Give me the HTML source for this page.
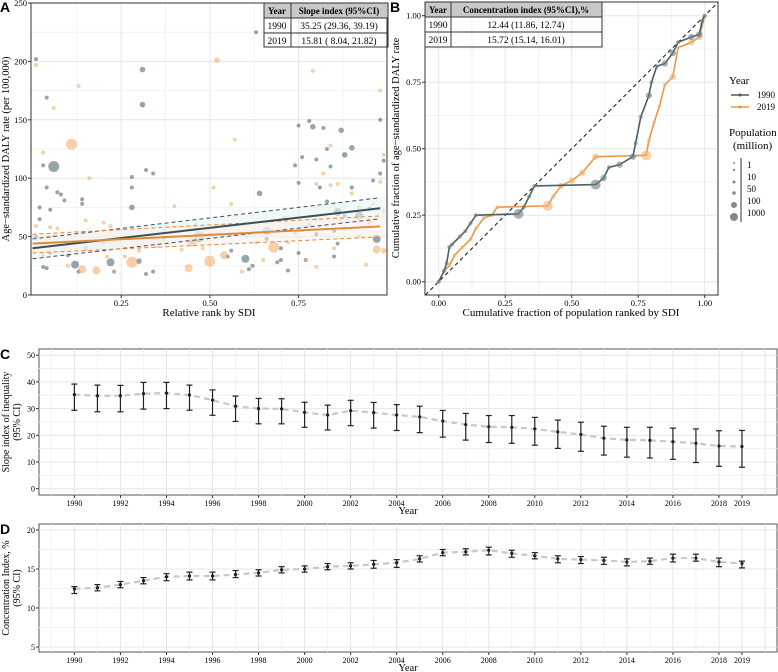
<!DOCTYPE html>
<html><head><meta charset="utf-8">
<style>
body{margin:0;background:#fff;}
svg{display:block;font-family:"Liberation Serif",serif;}
.pl{font-family:"Liberation Sans",sans-serif;font-weight:bold;font-size:14px;}
</style></head>
<body>
<svg id="c" width="778" height="672" viewBox="0 0 778 672"></svg>
<script>
// ---------- Panel A data ----------
const a90x=[0.01,0.02,0.02,0.03,0.04,0.04,0.05,0.06,0.07,0.08,0.09,0.1,0.12,0.13,0.14,0.14,0.03,0.04,0.28,0.28,0.28,0.31,0.31,0.32,0.34,0.3,0.32,0.34,0.22,0.47,0.6,0.62,0.61,0.64,0.63,0.66,0.69,0.7,0.72,0.75,0.74,0.76,0.75,0.78,0.79,0.82,0.83,0.87,0.88,0.9,0.8,0.84,0.86,0.92,0.97,0.98,0.99,0.98,0.96,0.75,0.77,0.85,0.85,0.9,0.81,0.8,0.86,0.23,0.01,0.05,0.1,0.37,0.45,0.55,0.56,0.5,0.66,0.7,0.78,0.83,0.88,0.95,0.15,0.2];
const a90y=[202,75,65,111,169,92,73,110,88,86,81,44,26,20,82,78,24,23,75,101,92,193,163,107,104,29,18,20,28,50,31,25,22,87,225,55,28,30,21,145,111,118,96,149,144,143,125,141,120,126,116,110,71,68,48,150,115,104,98,36,30,33,55,92,92,52,44,20,50,36,34,48,45,33,38,52,48,40,60,80,68,74,40,45];
const a90s=[1,1,1,1,1,1,1,4,1,1,1,1,3,1,1,1,1,1,2,1,1,2,2,1,1,2,1,1,3,4,3,1,1,2,1,3,1,1,1,1,1,1,1,1,2,1,1,2,2,2,1,1,3,3,3,1,1,1,1,1,1,1,1,1,1,1,1,1,1,1,1,1,1,1,1,1,1,1,1,1,1,1,1,1];
const a19x=[0.01,0.03,0.06,0.13,0.11,0.16,0.01,0.05,0.07,0.15,0.2,0.22,0.1,0.14,0.18,0.21,0.23,0.28,0.45,0.44,0.5,0.54,0.52,0.57,0.51,0.4,0.42,0.48,0.35,0.56,0.59,0.68,0.66,0.71,0.79,0.84,0.8,0.82,0.84,0.86,0.9,0.92,0.95,0.97,0.99,0.94,0.98,0.99,0.98,0.77,0.8,0.85,0.88,0.74,0.6,0.63,0.3,0.26,0.06,0.03,0.09,0.37,0.46,0.65,0.72,0.8,0.87,0.92,0.96,0.99];
const a19y=[197,122,160,179,129,100,59,58,57,64,62,59,25,22,21,33,20,28,46,23,29,34,201,133,92,76,39,40,42,78,20,41,62,66,192,128,95,104,94,95,87,75,62,39,38,26,175,120,97,30,24,40,57,53,52,45,38,33,50,34,40,55,60,30,45,65,65,50,78,72];
const a19s=[1,1,1,1,4,1,1,1,1,1,1,1,1,3,3,1,1,4,4,3,4,3,2,1,1,1,1,1,1,1,1,4,1,1,1,1,1,1,1,1,1,1,1,3,2,1,1,1,1,1,1,1,1,1,1,1,1,1,1,1,1,1,1,1,1,1,1,1,1,1];
const fit90=[40,75], fit90lo=[31,66], fit90hi=[48,84];
const fit19=[44,59], fit19lo=[36,50], fit19hi=[52,68];
// ---------- Panel B data ----------
const b90x=[0,0.02,0.03,0.04,0.05,0.08,0.1,0.12,0.14,0.3,0.32,0.34,0.36,0.59,0.62,0.64,0.68,0.73,0.74,0.76,0.79,0.8,0.82,0.85,0.88,0.9,0.95,0.98,0.99,1];
const b90y=[0,0.04,0.07,0.13,0.14,0.17,0.19,0.22,0.25,0.255,0.28,0.32,0.36,0.365,0.39,0.43,0.44,0.47,0.52,0.62,0.70,0.75,0.81,0.82,0.86,0.9,0.92,0.93,0.98,1];
const b19x=[0,0.02,0.04,0.06,0.09,0.12,0.14,0.17,0.2,0.22,0.41,0.43,0.46,0.5,0.54,0.59,0.78,0.79,0.81,0.83,0.85,0.88,0.9,0.95,0.98,1];
const b19y=[0,0.04,0.06,0.1,0.13,0.16,0.2,0.24,0.25,0.28,0.285,0.32,0.36,0.38,0.41,0.47,0.475,0.53,0.6,0.66,0.74,0.77,0.88,0.9,0.92,1];
// ---------- Panel C/D data ----------
const years=[1990,1991,1992,1993,1994,1995,1996,1997,1998,1999,2000,2001,2002,2003,2004,2005,2006,2007,2008,2009,2010,2011,2012,2013,2014,2015,2016,2017,2018,2019];
const siiVal=[35.25,34.8,34.8,35.6,35.8,35.1,33.2,30.9,30.0,29.9,28.6,27.6,29.2,28.5,27.6,26.9,25.3,24.0,23.2,23.0,22.4,21.3,20.3,18.9,18.3,18.1,17.6,17.0,16.0,15.81];
const siiLo=[29.36,28.8,28.8,29.8,30.0,29.4,27.5,25.2,24.3,24.3,23.0,22.0,23.6,22.7,21.8,21.0,19.3,18.2,17.3,17.0,16.3,15.1,14.0,12.6,11.8,11.5,11.0,9.8,8.4,8.04];
const siiHi=[39.19,38.8,38.7,39.8,39.8,38.8,37.0,34.7,33.8,33.7,32.4,31.3,33.1,32.3,31.5,30.9,29.3,28.2,27.4,27.4,26.7,25.7,24.9,23.4,23.0,23.0,22.7,22.4,21.7,21.82];
const ciVal=[12.44,12.6,13.0,13.5,14.0,14.1,14.1,14.3,14.5,14.9,15.0,15.3,15.4,15.6,15.8,16.3,17.1,17.2,17.4,17.0,16.7,16.3,16.2,16.1,15.9,16.0,16.4,16.4,15.9,15.72];
const ciLo=[11.86,12.2,12.6,13.1,13.5,13.6,13.6,13.9,14.1,14.5,14.6,14.9,15.0,15.1,15.2,15.9,16.7,16.8,16.8,16.5,16.3,15.8,15.7,15.6,15.4,15.6,15.9,16.0,15.3,15.14];
const ciHi=[12.74,13.0,13.4,13.9,14.4,14.6,14.6,14.8,14.9,15.3,15.4,15.7,15.8,16.1,16.2,16.7,17.5,17.6,17.8,17.4,17.1,16.7,16.6,16.5,16.3,16.4,16.9,16.9,16.4,16.01];

const NS="http://www.w3.org/2000/svg";
const svg=document.getElementById('c');
function el(tag,attrs,parent,text){const e=document.createElementNS(NS,tag);for(const k in attrs)e.setAttribute(k,attrs[k]);if(text!==undefined)e.textContent=text;(parent||svg).appendChild(e);return e;}
function grp(name){const g=el('g',{});return g;}

// ===== Panel A =====
const ax=v=>32.5+v*354.8, ay=v=>295-v*1.168;
const gA=grp('panel-a');
el('rect',{x:31,y:3,width:356,height:292,fill:'#fff',stroke:'#333','stroke-width':1},gA);
for(const t of [0.125,0.375,0.625,0.875]) el('line',{x1:ax(t),x2:ax(t),y1:3,y2:295,stroke:'#f3f3f3'},gA);
for(const t of [25,75,125,175,225]) el('line',{x1:31,x2:387,y1:ay(t),y2:ay(t),stroke:'#f3f3f3'},gA);
for(const t of [0.25,0.5,0.75]) el('line',{x1:ax(t),x2:ax(t),y1:3,y2:295,stroke:'#e6e6e6'},gA);
for(const t of [50,100,150,200]) el('line',{x1:31,x2:387,y1:ay(t),y2:ay(t),stroke:'#e6e6e6'},gA);
const rs=[0,2,2.8,4,5.5];
a90x.forEach((x,i)=>{const c=el('circle',{cx:ax(x),cy:ay(a90y[i]),r:rs[a90s[i]],fill:'#6b7f86','fill-opacity':0.7},gA);});
a19x.forEach((x,i)=>{const c=el('circle',{cx:ax(x),cy:ay(a19y[i]),r:rs[a19s[i]],fill:'#f0a865','fill-opacity':0.55},gA);});
el('polygon',{points:`${ax(0)},${ay(fit90lo[0])} ${ax(1)},${ay(fit90lo[1])} ${ax(1)},${ay(fit90hi[1])} ${ax(0)},${ay(fit90hi[0])}`,fill:'#e6f3f5','fill-opacity':0.6},gA);
el('polygon',{points:`${ax(0)},${ay(fit19lo[0])} ${ax(1)},${ay(fit19lo[1])} ${ax(1)},${ay(fit19hi[1])} ${ax(0)},${ay(fit19hi[0])}`,fill:'#fbeee9','fill-opacity':0.5},gA);
function ln(arr,col,w,dash,name){const l=el('line',{x1:ax(0),y1:ay(arr[0]),x2:ax(0.98),y2:ay(arr[0]+(arr[1]-arr[0])*0.98),stroke:col,'stroke-width':w,'stroke-dasharray':dash||'none'},gA);}
ln(fit90lo,'#3d4f57',1,'4,3','ci-1990-lower');ln(fit90hi,'#3d4f57',1,'4,3','ci-1990-upper');
ln(fit19lo,'#e08a35',1,'4,3','ci-2019-lower');ln(fit19hi,'#e08a35',1,'4,3','ci-2019-upper');
ln(fit90,'#3d4f57',2,null,'fit-1990');ln(fit19,'#e08a35',2,null,'fit-2019');
el('rect',{x:31,y:3,width:356,height:292,fill:'none',stroke:'#333','stroke-width':1},gA);
for(const t of [0,50,100,150,200,250]){el('line',{x1:28,x2:31,y1:ay(t),y2:ay(t),stroke:'#333'},gA);el('text',{x:27,y:ay(t)+3,'font-size':8.5,'text-anchor':'end'},gA,t);}
for(const t of [0.25,0.5,0.75]){el('line',{x1:ax(t),x2:ax(t),y1:295,y2:298,stroke:'#333'},gA);el('text',{x:ax(t),y:306,'font-size':8.5,'text-anchor':'middle'},gA,t.toFixed(2));}
el('text',{x:209,y:316,'font-size':11,'text-anchor':'middle'},gA,'Relative rank by SDI');
el('text',{x:9,y:149,'font-size':10.5,'text-anchor':'middle',transform:'rotate(-90 9 149)'},gA,'Age−standardized DALY rate (per 100,000)');
el('text',{x:0,y:12,class:'pl'},gA,'A');
const tA=grp('slope-index-table');
el('rect',{x:264,y:3,width:124,height:15,fill:'#c8c8c8'},tA);
el('rect',{x:264,y:3,width:124,height:44,fill:'none',stroke:'#333'},tA);
el('line',{x1:264,x2:388,y1:18,y2:18,stroke:'#333'},tA);el('line',{x1:264,x2:388,y1:33,y2:33,stroke:'#333'},tA);
el('line',{x1:291,x2:291,y1:3,y2:47,stroke:'#333'},tA);
el('text',{x:277,y:14,'font-size':9,'font-weight':'bold','text-anchor':'middle'},tA,'Year');
el('text',{x:339,y:14,'font-size':9,'font-weight':'bold','text-anchor':'middle'},tA,'Slope index (95%CI)');
el('text',{x:277,y:29,'font-size':9.5,'text-anchor':'middle'},tA,'1990');
el('text',{x:339,y:29,'font-size':9.5,'text-anchor':'middle'},tA,'35.25 (29.36, 39.19)');
el('text',{x:277,y:44,'font-size':9.5,'text-anchor':'middle'},tA,'2019');
el('text',{x:339,y:44,'font-size':9.5,'text-anchor':'middle'},tA,'15.81 ( 8.04, 21.82)');

// ===== Panel B =====
const bx=v=>438.7+v*266, by=v=>281.7-v*266;
const gB=grp('panel-b');
el('rect',{x:425,y:2,width:293,height:293,fill:'#fff'},gB);
for(const t of [0.125,0.375,0.625,0.875]){el('line',{x1:bx(t),x2:bx(t),y1:2,y2:295,stroke:'#f3f3f3'},gB);el('line',{x1:425,x2:718,y1:by(t),y2:by(t),stroke:'#f3f3f3'},gB);}
for(const t of [0,0.25,0.5,0.75,1]){el('line',{x1:bx(t),x2:bx(t),y1:2,y2:295,stroke:'#e6e6e6'},gB);el('line',{x1:425,x2:718,y1:by(t),y2:by(t),stroke:'#e6e6e6'},gB);}
el('line',{x1:bx(-0.05),y1:by(-0.05),x2:bx(1.05),y2:by(1.05),stroke:'#111','stroke-dasharray':'4,3'},gB);
function curve(xs,ys,col,name,pc){
  let d='';xs.forEach((x,i)=>{d+=(i?'L':'M')+bx(x)+','+by(ys[i]);});
  const p=el('path',{d,fill:'none',stroke:col,'stroke-width':1.6},gB);
  xs.forEach((x,i)=>{const dx=i?x-xs[i-1]:0;const r=dx>0.1?5:(dx>0.03?3.2:2);const c=el('circle',{cx:bx(x),cy:by(ys[i]),r,fill:pc,'fill-opacity':0.6},gB);});
}
curve(b19x,b19y,'#e89848','curve-2019','#f0b070');
curve(b90x,b90y,'#4a5f68','curve-1990','#6b7f86');
el('rect',{x:425,y:2,width:293,height:293,fill:'none',stroke:'#333'},gB);
for(const t of [0,0.25,0.5,0.75,1]){const s=t.toFixed(2);el('line',{x1:bx(t),x2:bx(t),y1:295,y2:298,stroke:'#333'},gB);el('text',{x:bx(t),y:306,'font-size':8.5,'text-anchor':'middle'},gB,s);el('line',{x1:422,x2:425,y1:by(t),y2:by(t),stroke:'#333'},gB);el('text',{x:421,y:by(t)+3,'font-size':8.5,'text-anchor':'end'},gB,s);}
el('text',{x:571,y:316,'font-size':11,'text-anchor':'middle'},gB,'Cumulative fraction of population ranked by SDI');
el('text',{x:399,y:148,'font-size':10.5,'text-anchor':'middle',transform:'rotate(-90 399 148)'},gB,'Cumulative fraction of age−standardized DALY rate');
el('text',{x:390,y:12,class:'pl'},gB,'B');
const tB=grp('concentration-index-table');
el('rect',{x:425,y:2,width:177,height:15,fill:'#c8c8c8'},tB);
el('rect',{x:425,y:2,width:177,height:45,fill:'none',stroke:'#333'},tB);
el('line',{x1:425,x2:602,y1:17,y2:17,stroke:'#333'},tB);el('line',{x1:425,x2:602,y1:32,y2:32,stroke:'#333'},tB);
el('line',{x1:451,x2:451,y1:2,y2:47,stroke:'#333'},tB);
el('text',{x:438,y:13,'font-size':9,'font-weight':'bold','text-anchor':'middle'},tB,'Year');
el('text',{x:526,y:13,'font-size':9,'font-weight':'bold','text-anchor':'middle'},tB,'Concentration index (95%CI),%');
el('text',{x:438,y:28,'font-size':9.5,'text-anchor':'middle'},tB,'1990');
el('text',{x:526,y:28,'font-size':9.5,'text-anchor':'middle'},tB,'12.44 (11.86, 12.74)');
el('text',{x:438,y:43,'font-size':9.5,'text-anchor':'middle'},tB,'2019');
el('text',{x:526,y:43,'font-size':9.5,'text-anchor':'middle'},tB,'15.72 (15.14, 16.01)');
const lg=grp('legend');
el('text',{x:729,y:84,'font-size':11},lg,'Year');
el('line',{x1:731,x2:749,y1:95,y2:95,stroke:'#4a5f68','stroke-width':1.5},lg);el('circle',{cx:740,cy:95,r:1.5,fill:'#4a5f68'},lg);
el('text',{x:757,y:98,'font-size':9},lg,'1990');
el('line',{x1:731,x2:749,y1:107,y2:107,stroke:'#e89848','stroke-width':1.5},lg);el('circle',{cx:740,cy:107,r:1.5,fill:'#e89848'},lg);
el('text',{x:757,y:110,'font-size':9},lg,'2019');
el('text',{x:729,y:136,'font-size':11},lg,'Population');
el('text',{x:733,y:149,'font-size':11},lg,'(million)');
el('line',{x1:741,x2:741,y1:158,y2:222,stroke:'#333'},lg);
[[163,1],[170,1.2],[182,1.5],[193,1.8],[205,3],[217,4]].forEach(r=>{el('circle',{cx:734,cy:r[0],r:r[1],fill:'#888'},lg);});
[[165,'1'],[177,'10'],[189,'50'],[201,'100'],[213,'1000']].forEach(r=>el('text',{x:747,y:r[0]+3,'font-size':9},lg,r[1]));

// ===== Panel C & D =====
const yx=y=>74.4+(y-1990)*23.02;
function panel(name,top,bot,y0px,ypx,y0,ticks,minor,vals,lo,hi,lab1,lab2,letter){
  const g=grp(name);
  const yy=v=>y0px-(v-y0)*ypx;
  el('rect',{x:39,y:top,width:738,height:bot-top,fill:'#fff',stroke:'#555'},g);
  for(let y=1989;y<=2020;y++) el('line',{x1:yx(y),x2:yx(y),y1:top,y2:bot,stroke:y%2==0||y==2019?'#e6e6e6':'#f3f3f3'},g);
  minor.forEach(t=>el('line',{x1:39,x2:777,y1:yy(t),y2:yy(t),stroke:'#f0f0f0'},g));
  ticks.forEach(t=>{el('line',{x1:39,x2:777,y1:yy(t),y2:yy(t),stroke:'#e6e6e6'},g);el('line',{x1:36,x2:39,y1:yy(t),y2:yy(t),stroke:'#333'},g);el('text',{x:35,y:yy(t)+3,'font-size':8,'text-anchor':'end'},g,t);});
  let d='';years.forEach((y,i)=>{d+=(i?'L':'M')+yx(y)+','+yy(vals[i]);});
  el('path',{d,fill:'none',stroke:'#c8c8c8','stroke-width':2.2,'stroke-dasharray':'6,4'},g);
  years.forEach((y,i)=>{
    const e=el('g',{},g);
    const x=yx(y);
    el('line',{x1:x,x2:x,y1:yy(lo[i]),y2:yy(hi[i]),stroke:'#222','stroke-width':1.2},e);
    el('line',{x1:x-3,x2:x+3,y1:yy(lo[i]),y2:yy(lo[i]),stroke:'#222','stroke-width':1.2},e);
    el('line',{x1:x-3,x2:x+3,y1:yy(hi[i]),y2:yy(hi[i]),stroke:'#222','stroke-width':1.2},e);
    el('circle',{cx:x,cy:yy(vals[i]),r:1.6,fill:'#222'},e);
  });
  years.forEach(y=>{if(y%2==0||y==2019){el('line',{x1:yx(y),x2:yx(y),y1:bot,y2:bot+3,stroke:'#333'},g);el('text',{x:yx(y),y:bot+11,'font-size':8,'text-anchor':'middle'},g,y);}});
  el('text',{x:408,y:bot+19,'font-size':10.5,'text-anchor':'middle'},g,'Year');
  const cy=(top+bot)/2;
  el('text',{x:9,y:cy,'font-size':10,'text-anchor':'middle',transform:`rotate(-90 9 ${cy})`},g,lab1);
  el('text',{x:20,y:cy,'font-size':10,'text-anchor':'middle',transform:`rotate(-90 20 ${cy})`},g,lab2);
  el('text',{x:0,y:top+10,class:'pl'},g,letter);
}
panel('panel-c',349,495,488.7,2.67,0,[0,10,20,30,40,50],[5,15,25,35,45],siiVal,siiLo,siiHi,'Slope index of inequality','(95% CI)','C');
panel('panel-d',524,652,647,7.8,5,[5,10,15,20],[7.5,12.5,17.5],ciVal,ciLo,ciHi,'Concentration Index, %','(95% CI)','D');
</script>
</body></html>
